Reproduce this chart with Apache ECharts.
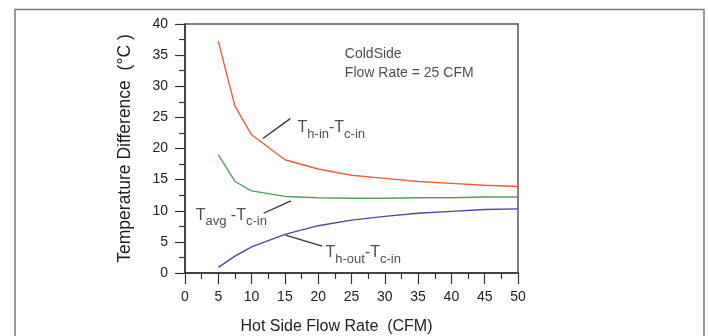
<!DOCTYPE html>
<html>
<head>
<meta charset="utf-8">
<script src="https://cdn.jsdelivr.net/npm/echarts@6/dist/echarts.min.js"></script>
<style>
  html, body { margin: 0; padding: 0; background: #fff; }
  #chart { width: 708px; height: 336px; }
</style>
</head>
<body>
<div id="chart"></div>
<script>
const flowRate = [5, 7.5, 10, 15, 20, 25, 30, 35, 40, 45, 50];
const hotInDiff = [37.2, 26.8, 22.2, 18.2, 16.7, 15.7, 15.2, 14.7, 14.4, 14.1, 13.9];
const avgDiff = [19.0, 14.7, 13.2, 12.3, 12.1, 12.0, 12.0, 12.1, 12.1, 12.2, 12.2];
const hotOutDiff = [0.9, 2.7, 4.2, 6.2, 7.6, 8.5, 9.1, 9.6, 9.9, 10.2, 10.3];

// leader lines, [from, to] in data units
const leaders = [
  [[11.7, 21.6], [15.8, 24.8]],
  [[11.8, 9.6], [15.9, 11.6]],
  [[15.1, 6.1], [20.6, 4.3]]
];
// curve labels: anchor (left edge of the T), main / subscript parts
const curveLabels = [
  { at: [16.9, 22.9], parts: ["T", "h-in", "-T", "c-in"] },
  { at: [1.6, 8.85], parts: ["T", "avg", " -T", "c-in"] },
  { at: [21.1, 2.9], parts: ["T", "h-out", "-T", "c-in"] }
];
const noteAt = [24.0, 33.7];
const noteText = "ColdSide\nFlow Rate = 25 CFM";

const FONT = "Liberation Sans, Arial, sans-serif";
const INK = "#222";

function richText(parts) {
  return "{t|" + parts[0] + "}{s|" + parts[1] + "}{t|" + parts[2] + "}{s|" + parts[3] + "}";
}

const chart = echarts.init(document.getElementById("chart"), null, { renderer: "canvas" });

const lineSeries = (name, data, color) => ({
  name,
  type: "line",
  data: flowRate.map((x, i) => [x, data[i]]),
  symbol: "none",
  smooth: false,
  lineStyle: { color, width: 1.4 },
  z: 3
});

const series = [
  lineSeries("Th-in - Tc-in", hotInDiff, "#e8603c"),
  lineSeries("Tavg - Tc-in", avgDiff, "#55a05a"),
  lineSeries("Th-out - Tc-in", hotOutDiff, "#4d4a9e")
];

leaders.forEach((seg) => {
  series.push({
    type: "line",
    data: seg,
    symbol: "none",
    lineStyle: { color: "#333", width: 1.3 },
    silent: true,
    z: 4
  });
});

series.push({
  type: "scatter",
  symbolSize: 0,
  silent: true,
  data: curveLabels.map((c) => ({ value: c.at, text: richText(c.parts) })),
  label: {
    show: true,
    position: "right",
    distance: 0,
    formatter: (p) => p.data.text,
    rich: {
      t: { fontFamily: FONT, fontSize: 16, color: INK, lineHeight: 21, verticalAlign: "top" },
      s: { fontFamily: FONT, fontSize: 13, color: INK, lineHeight: 21, verticalAlign: "bottom" }
    }
  },
  z: 5
});

series.push({
  type: "scatter",
  symbolSize: 0,
  silent: true,
  data: [noteAt],
  label: {
    show: true,
    position: "right",
    distance: 0,
    formatter: noteText,
    fontFamily: FONT,
    fontSize: 14,
    lineHeight: 19,
    color: INK
  },
  z: 5
});

chart.setOption({
  animation: false,
  backgroundColor: "#fff",
  grid: {
    left: 185, right: 190, top: 24, bottom: 63,
    outerBoundsMode: "none",
    show: true, borderColor: "#555", borderWidth: 1.5, backgroundColor: "transparent"
  },
  graphic: [{
    type: "rect",
    shape: { x: 15, y: 9.5, width: 689, height: 360 },
    style: { fill: "none", stroke: "#7a7a7a", lineWidth: 1.5 },
    silent: true,
    z: -1
  }],
  xAxis: {
    type: "value",
    min: 0, max: 50, interval: 5,
    name: "Hot Side Flow Rate  (CFM)",
    nameLocation: "middle",
    nameGap: 46,
    nameTextStyle: { fontFamily: FONT, fontSize: 16, color: INK, padding: [0, 30, 0, 0] },
    axisLine: { lineStyle: { color: "#333", width: 1.5 } },
    axisTick: { show: true, length: 11, lineStyle: { color: "#333", width: 1.2 } },
    minorTick: { show: true, splitNumber: 2, length: 6, lineStyle: { color: "#333", width: 1.2 } },
    splitLine: { show: false },
    axisLabel: { fontFamily: FONT, fontSize: 14, color: INK, margin: 17 }
  },
  yAxis: {
    type: "value",
    min: 0, max: 40, interval: 5,
    name: "Temperature Difference  (°C )",
    nameLocation: "middle",
    nameGap: 51,
    nameTextStyle: { fontFamily: FONT, fontSize: 17.5, color: INK },
    axisLine: { show: true, lineStyle: { color: "#333", width: 1.5 } },
    axisTick: { show: true, length: 10, lineStyle: { color: "#333", width: 1.2 } },
    minorTick: { show: true, splitNumber: 2, length: 6, lineStyle: { color: "#333", width: 1.2 } },
    splitLine: { show: false },
    axisLabel: { fontFamily: FONT, fontSize: 14, color: INK, margin: 17 }
  },
  series
});
</script>
</body>
</html>
